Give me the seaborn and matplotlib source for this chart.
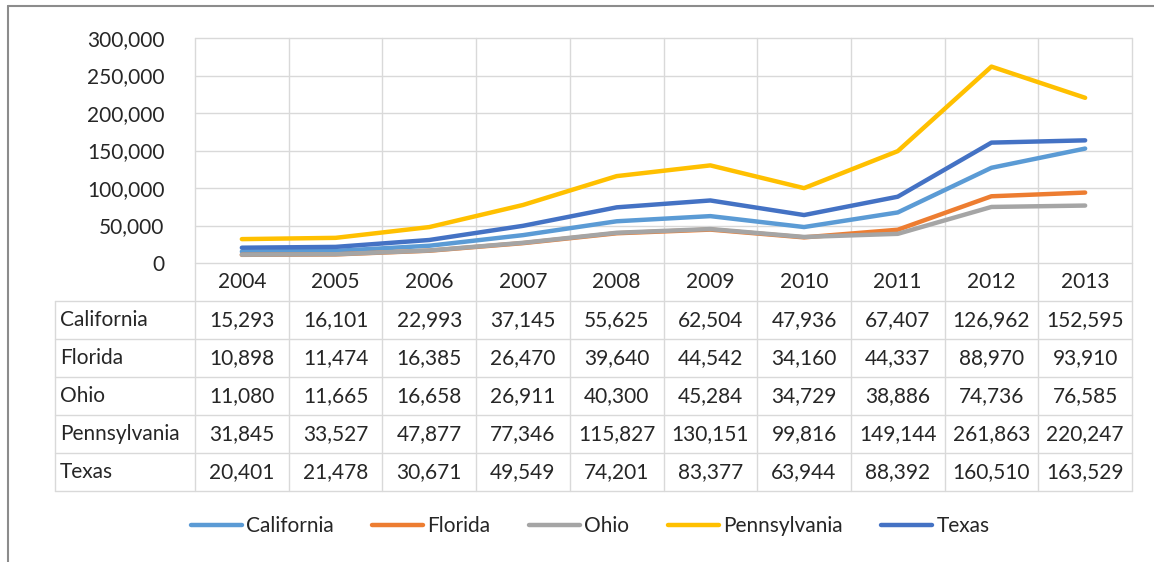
import matplotlib
matplotlib.use("Agg")
import matplotlib.pyplot as plt
import seaborn as sns
import pandas as pd
import numpy as np
from matplotlib.lines import Line2D
from matplotlib.ticker import FuncFormatter

years = [2004, 2005, 2006, 2007, 2008, 2009, 2010, 2011, 2012, 2013]
states = ["California", "Florida", "Ohio", "Pennsylvania", "Texas"]
california = [15293, 16101, 22993, 37145, 55625, 62504, 47936, 67407, 126962, 152595]
florida = [10898, 11474, 16385, 26470, 39640, 44542, 34160, 44337, 88970, 93910]
ohio = [11080, 11665, 16658, 26911, 40300, 45284, 34729, 38886, 74736, 76585]
pennsylvania = [31845, 33527, 47877, 77346, 115827, 130151, 99816, 149144, 261863, 220247]
texas = [20401, 21478, 30671, 49549, 74201, 83377, 63944, 88392, 160510, 163529]
colors = ["#5B9BD5", "#ED7D31", "#A5A5A5", "#FFC000", "#4472C4"]

series = [california, florida, ohio, pennsylvania, texas]
df = pd.DataFrame([(s, y, v) for s, vals in zip(states, series) for y, v in zip(years, vals)],
                  columns=["state", "year", "value"])

sns.set_style("white")
plt.rcParams['font.family'] = ['Lato', 'DejaVu Sans']
FS = 15
TXT = "#262626"
GRID = "#D9D9D9"

W, H = 1154, 562
fig = plt.figure(figsize=(W / 100, H / 100), dpi=100)

def px_axes(x0, y0, x1, y1):
    return fig.add_axes([x0 / W, 1 - y1 / H, (x1 - x0) / W, (y1 - y0) / H])

ax = px_axes(195, 38, 1132, 263)
tab = px_axes(55, 263, 1132, 491)

sns.lineplot(data=df, x="year", y="value", hue="state", palette=colors,
             linewidth=3.2, ax=ax, legend=False, zorder=3)

x0, x1 = years[0] - 0.5, years[-1] + 0.5
ax.set_xlim(x0, x1)
ax.set_ylim(0, 300000)
ax.set_yticks(range(0, 300001, 50000))
ax.yaxis.set_major_formatter(FuncFormatter(lambda v, p: f"{int(v):,}"))
ax.set_xticks([])
ax.tick_params(axis="y", length=0, pad=22, labelsize=FS, labelcolor=TXT)
ax.set_xlabel("")
ax.set_ylabel("")
for s in ax.spines.values():
    s.set_visible(False)
for t in range(0, 300001, 50000):
    ax.axhline(t, color=GRID, lw=1, clip_on=False, zorder=1)
for b in np.arange(x0, x1 + 0.1, 1):
    ax.axvline(b, color=GRID, lw=1, clip_on=False, zorder=1)

# data table under the chart
col_w = (1132 - 195) / len(years)
left = x0 - (195 - 55) / col_w
tab.set_xlim(left, x1)
tab.set_ylim(len(states) + 1, 0)
tab.axis("off")
for b in np.arange(x0, x1 + 0.1, 1):
    tab.plot([b, b], [0, len(states) + 1], color=GRID, lw=1, clip_on=False)
tab.plot([left, left], [1, len(states) + 1], color=GRID, lw=1, clip_on=False)
for r in range(1, len(states) + 2):
    tab.plot([left, x1], [r, r], color=GRID, lw=1, clip_on=False)
for y in years:
    tab.text(y, 0.5, str(y), ha="center", va="center", fontsize=FS, color=TXT)
for i, (s, vals) in enumerate(zip(states, series)):
    tab.text(left + 0.05, i + 1.5, s, ha="left", va="center", fontsize=FS, color=TXT)
    for y, v in zip(years, vals):
        tab.text(y, i + 1.5, f"{v:,}", ha="center", va="center", fontsize=FS, color=TXT)

handles = [Line2D([], [], color=c, lw=3.2) for c in colors]
fig.legend(handles, states, ncol=5, loc="center", bbox_to_anchor=(590 / W, 1 - 526 / H),
           frameon=False, handlelength=2.45, handletextpad=0.2, columnspacing=1.85,
           fontsize=FS, labelcolor=TXT)

# outer chart border
fig.add_artist(Line2D([8 / W, 8 / W], [0, 1 - 6 / H], color="#8C8C8C", lw=1.5, transform=fig.transFigure))
fig.add_artist(Line2D([8 / W, 1], [1 - 6 / H, 1 - 6 / H], color="#8C8C8C", lw=1.5, transform=fig.transFigure))

fig.savefig("out.png", dpi=100)
